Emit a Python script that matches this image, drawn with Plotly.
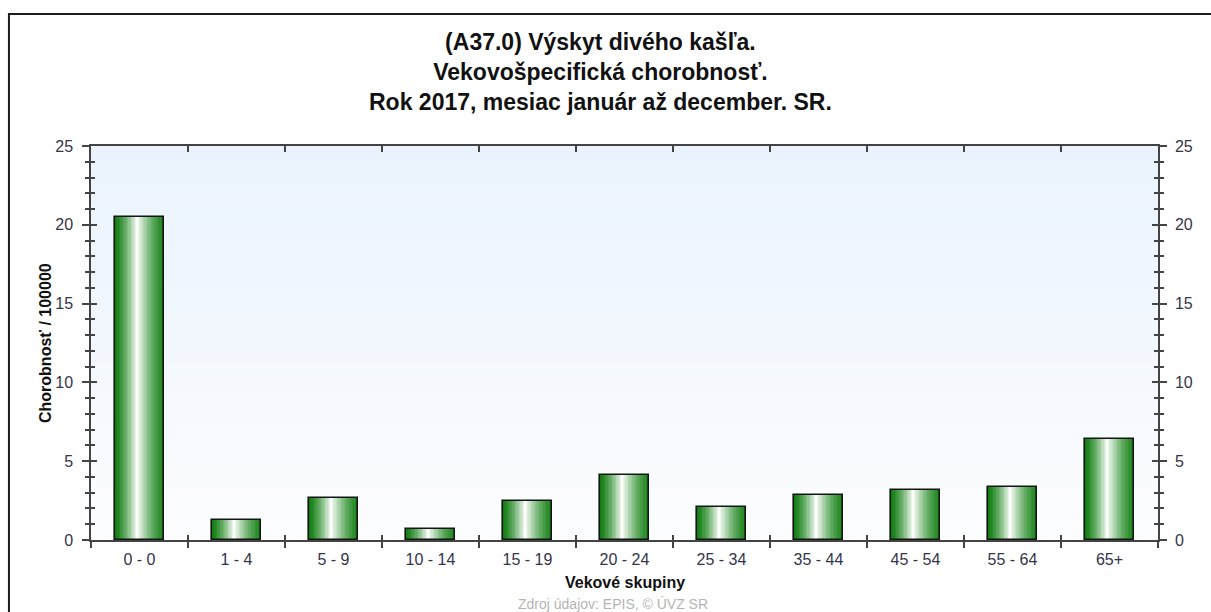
import plotly.graph_objects as go

# Age groups and age-specific incidence per 100 000 (2017)
age_groups = ["0 - 0", "1 - 4", "5 - 9", "10 - 14", "15 - 19", "20 - 24",
              "25 - 34", "35 - 44", "45 - 54", "55 - 64", "65+"]
incidence = [20.48, 1.27, 2.68, 0.70, 2.49, 4.13, 2.10, 2.86, 3.17, 3.35, 6.42]

y_ticks = [0, 5, 10, 15, 20, 25]

title_lines = ["(A37.0) Výskyt divého kašľa.",
               "Vekovošpecifická chorobnosť.",
               "Rok 2017, mesiac január až december. SR."]
x_title = "Vekové skupiny"
y_title = "Chorobnosť / 100000"
source_note = "Zdroj údajov: EPIS, © ÚVZ SR"

FONT = "Liberation Sans, Arial, sans-serif"
AXIS_COLOR = "#444444"
LABEL_COLOR = "#34344a"
BAR_WIDTH = 0.5
N_STRIPS = 36


def lerp(a, b, t):
    return tuple(round(a[k] + (b[k] - a[k]) * t) for k in range(3))


def bar_shade(t):
    """Horizontal cylinder-like shading: dark green edges, white highlight."""
    edge_l = (14, 124, 14)
    edge_r = (30, 134, 30)
    hi = (252, 255, 252)
    c = 0.46
    if t <= c:
        u = (t / c) ** 1.35
        return lerp(edge_l, hi, u)
    u = ((1 - t) / (1 - c)) ** 1.35
    return lerp(edge_r, hi, u)


fig = go.Figure()

strip_w = BAR_WIDTH / N_STRIPS
for i in range(N_STRIPS):
    r, g, b = bar_shade((i + 0.5) / N_STRIPS)
    fig.add_trace(go.Bar(
        x=age_groups, y=incidence,
        width=strip_w * 1.15 if i < N_STRIPS - 1 else strip_w,
        offset=-BAR_WIDTH / 2 + i * strip_w,
        marker=dict(color=f"rgb({r},{g},{b})", line=dict(width=0)),
        hoverinfo="skip", showlegend=False,
    ))

# bar outlines
fig.add_trace(go.Bar(
    x=age_groups, y=incidence, width=BAR_WIDTH, offset=-BAR_WIDTH / 2,
    marker=dict(color="rgba(0,0,0,0)", line=dict(color="#151515", width=1.6)),
    hoverinfo="skip", showlegend=False,
))

# empty traces that carry the extra tick axes
empty = [None] * len(age_groups)
for xa, ya in [("x", "y2"), ("x2", "y3"), ("x3", "y4")]:
    fig.add_trace(go.Scatter(x=age_groups, y=empty, xaxis=xa, yaxis=ya,
                             mode="markers", hoverinfo="skip", showlegend=False))

# light blue vertical gradient of the plot area
n_bg = 60
top_c = (234, 243, 253)
bot_c = (252, 253, 255)
shapes = []
for k in range(n_bg):
    r, g, b = lerp(bot_c, top_c, (k + 0.5) / n_bg)
    shapes.append(dict(type="rect", xref="x domain", yref="y domain",
                       x0=0, x1=1, y0=k / n_bg, y1=(k + 1) / n_bg + 0.002,
                       fillcolor=f"rgb({r},{g},{b})", line=dict(width=0),
                       layer="below"))
# outer frame
shapes.append(dict(type="rect", xref="paper", yref="paper",
                   x0=-0.0769, x1=1.2, y0=-0.5, y1=1.335,
                   line=dict(color="#1e1e1e", width=2), fillcolor="rgba(0,0,0,0)"))

tick_font = dict(family=FONT, size=16, color=LABEL_COLOR)
y_common = dict(range=[0, 25], tickvals=y_ticks, showgrid=False, zeroline=False,
                tickcolor=AXIS_COLOR, tickwidth=1.5, fixedrange=True)
x_common = dict(type="category", categoryorder="array", categoryarray=age_groups,
                range=[-0.5, len(age_groups) - 0.5], tickson="boundaries",
                showgrid=False, zeroline=False, tickcolor=AXIS_COLOR,
                tickwidth=1.5, fixedrange=True)

fig.update_layout(
    width=1211, height=612,
    margin=dict(l=91, r=53, t=146, b=72),
    paper_bgcolor="white", plot_bgcolor="white",
    barmode="overlay", bargap=0,
    showlegend=False, hovermode=False,
    shapes=shapes,
    xaxis=dict(**x_common, side="bottom", anchor="y", ticks="outside", ticklen=6,
               showline=True, linecolor=AXIS_COLOR, linewidth=1.5,
               tickfont=tick_font, ticklabelstandoff=4),
    xaxis2=dict(**x_common, overlaying="x", side="bottom", anchor="y",
                ticks="inside", ticklen=5, showticklabels=False, showline=False),
    xaxis3=dict(**x_common, overlaying="x", side="top", anchor="y",
                ticks="inside", ticklen=6, showticklabels=False,
                showline=True, linecolor=AXIS_COLOR, linewidth=1.5),
    yaxis=dict(**y_common, side="left", ticks="outside", ticklen=7,
               minor=dict(ticks="outside", dtick=1, ticklen=4,
                          tickcolor=AXIS_COLOR, tickwidth=1.5),
               showline=True, linecolor=AXIS_COLOR, linewidth=1.5,
               tickfont=tick_font, ticklabelstandoff=6),
    yaxis2=dict(**y_common, overlaying="y", side="right", anchor="x",
                ticks="outside", ticklen=7,
                minor=dict(ticks="outside", dtick=1, ticklen=4,
                           tickcolor=AXIS_COLOR, tickwidth=1.5),
                showline=True, linecolor=AXIS_COLOR, linewidth=1.5,
                tickfont=tick_font, ticklabelstandoff=5),
    yaxis3=dict(**y_common, overlaying="y", side="left", anchor="x",
                ticks="inside", ticklen=6,
                minor=dict(ticks="inside", dtick=1, ticklen=4,
                           tickcolor=AXIS_COLOR, tickwidth=1.5),
                showticklabels=False, showline=False),
    yaxis4=dict(**y_common, overlaying="y", side="right", anchor="x",
                ticks="inside", ticklen=6,
                minor=dict(ticks="inside", dtick=1, ticklen=4,
                           tickcolor=AXIS_COLOR, tickwidth=1.5),
                showticklabels=False, showline=False),
    annotations=[
        dict(text="<br>".join(title_lines), xref="paper", yref="paper",
             x=0.4775, y=1.188, xanchor="center", yanchor="middle",
             showarrow=False, align="center",
             font=dict(family=FONT, size=23, color="#111111", weight="bold")),
        dict(text=x_title, xref="paper", yref="paper", x=0.5, y=-0.109,
             xanchor="center", yanchor="middle", showarrow=False,
             font=dict(family=FONT, size=16, color="#111111", weight="bold")),
        dict(text=y_title, xref="paper", yref="paper", x=-0.0431, y=0.5,
             xanchor="center", yanchor="middle", textangle=-90, showarrow=False,
             font=dict(family=FONT, size=16, color="#111111", weight="bold")),
        dict(text=source_note, xref="paper", yref="paper", x=0.489, y=-0.138,
             xanchor="center", yanchor="top", showarrow=False,
             font=dict(family=FONT, size=14, color="#b4b4b4")),
    ],
)

fig.write_html("out.html")
